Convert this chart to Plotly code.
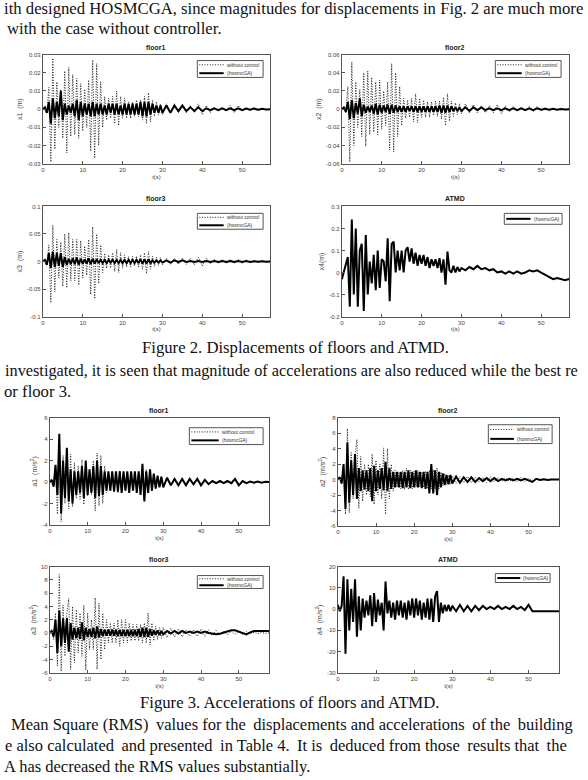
import numpy as np
import plotly.graph_objects as go

W, H = 588, 780

# ---------------- sample times (s) ----------------
T = list(np.arange(0, 30.5, 0.5)) + list(range(31, 59))

# ---------------- Figure 2: displacements (m) ----------------
X1_U = [0.000, 0.001, -0.002, 0.012, -0.029, 0.028, -0.022, 0.015, -0.010, 0.011,
        -0.016, 0.021, -0.024, 0.023, -0.015, 0.019, -0.014, 0.017, -0.016, 0.014,
        -0.012, 0.011, -0.010, 0.016, -0.023, 0.027, -0.027, 0.025, -0.020, 0.015,
        -0.010, 0.007, -0.006, 0.006, -0.005, 0.007, -0.008, 0.010, -0.009, 0.007,
        -0.005, 0.006, -0.005, 0.004, -0.005, 0.004, -0.004, 0.005, -0.004, 0.005,
        -0.006, 0.007, -0.008, 0.009, -0.007, 0.005, -0.004, 0.004, -0.003, 0.003,
        -0.003, 0.003, -0.002, 0.003, -0.002, 0.002, -0.002, 0.002, -0.002, 0.003,
        -0.003, 0.002, -0.002, 0.001, -0.001, 0.001, -0.001, 0.002, -0.002, 0.002,
        -0.001, 0.001, -0.001, 0.001, -0.001, 0.0005, -0.0005, 0.0003, 0.0]
X1_C = [0.000, 0.001, -0.002, 0.004, -0.008, 0.006, -0.005, 0.004, -0.004, 0.010,
        -0.006, 0.003, -0.003, 0.002, -0.002, 0.003, -0.004, 0.005, -0.006, 0.004,
        -0.004, 0.003, -0.003, 0.003, -0.004, 0.004, -0.004, 0.003, -0.003, 0.003,
        -0.003, 0.002, -0.003, 0.003, -0.002, 0.003, -0.003, 0.003, -0.003, 0.002,
        -0.003, 0.003, -0.003, 0.003, -0.003, 0.003, -0.003, 0.003, -0.003, 0.004,
        -0.004, 0.004, -0.004, 0.004, -0.003, 0.003, -0.002, 0.002, -0.002, 0.002,
        -0.002, 0.002, -0.002, 0.002, -0.001, 0.002, -0.001, 0.001, -0.001, 0.001,
        -0.001, 0.0005, -0.0005, 0.0005, -0.0005, 0.0005, -0.0005, 0.0005, -0.0005, 0.0005,
        -0.0005, 0.0003, -0.0003, 0.0003, -0.0003, 0.0002, -0.0002, 0.0001, 0.0]
X2_U = [0.000, 0.002, -0.004, 0.025, -0.058, 0.052, -0.040, 0.030, -0.020, 0.022,
        -0.030, 0.040, -0.041, 0.042, -0.028, 0.035, -0.025, 0.030, -0.028, 0.032,
        -0.022, 0.020, -0.018, 0.030, -0.045, 0.050, -0.047, 0.040, -0.030, 0.025,
        -0.018, 0.012, -0.010, 0.010, -0.009, 0.012, -0.014, 0.017, -0.015, 0.012,
        -0.009, 0.010, -0.009, 0.008, -0.009, 0.008, -0.007, 0.009, -0.008, 0.009,
        -0.011, 0.013, -0.018, 0.017, -0.013, 0.009, -0.008, 0.007, -0.006, 0.006,
        -0.005, 0.006, -0.004, 0.005, -0.004, 0.004, -0.004, 0.004, -0.004, 0.005,
        -0.005, 0.004, -0.003, 0.003, -0.002, 0.002, -0.002, 0.003, -0.003, 0.003,
        -0.002, 0.002, -0.002, 0.001, -0.001, 0.001, -0.001, 0.0005, 0.0]
X2_C = [0.000, 0.002, -0.003, 0.008, -0.011, 0.010, -0.010, 0.007, -0.005, 0.012,
        -0.008, 0.005, -0.004, 0.003, -0.003, 0.004, -0.005, 0.006, -0.006, 0.005,
        -0.004, 0.004, -0.003, 0.005, -0.005, 0.005, -0.004, 0.004, -0.003, 0.003,
        -0.003, 0.003, -0.003, 0.003, -0.002, 0.003, -0.003, 0.003, -0.003, 0.003,
        -0.003, 0.003, -0.003, 0.003, -0.003, 0.003, -0.003, 0.003, -0.003, 0.004,
        -0.004, 0.004, -0.004, 0.004, -0.003, 0.003, -0.002, 0.002, -0.002, 0.002,
        -0.002, 0.002, -0.002, 0.002, -0.001, 0.002, -0.001, 0.001, -0.001, 0.001,
        -0.001, 0.001, -0.001, 0.001, -0.001, 0.001, -0.001, 0.001, -0.001, 0.001,
        -0.0005, 0.0005, -0.0005, 0.0005, -0.0005, 0.0003, -0.0003, 0.0002, 0.0]
X3_U = [0.000, 0.003, -0.005, 0.030, -0.075, 0.066, -0.055, 0.040, -0.030, 0.035,
        -0.045, 0.050, -0.048, 0.052, -0.035, 0.040, -0.035, 0.040, -0.043, 0.038,
        -0.030, 0.028, -0.025, 0.040, -0.060, 0.063, -0.068, 0.050, -0.040, 0.030,
        -0.020, 0.015, -0.012, 0.012, -0.012, 0.016, -0.018, 0.022, -0.020, 0.016,
        -0.012, 0.012, -0.010, 0.009, -0.010, 0.009, -0.008, 0.010, -0.010, 0.012,
        -0.014, 0.016, -0.022, 0.018, -0.014, 0.010, -0.009, 0.008, -0.007, 0.007,
        -0.006, 0.006, -0.005, 0.006, -0.005, 0.006, -0.005, 0.006, -0.006, 0.008,
        -0.008, 0.006, -0.004, 0.004, -0.003, 0.003, -0.003, 0.004, -0.004, 0.004,
        -0.003, 0.003, -0.002, 0.002, -0.002, 0.001, -0.001, 0.001, 0.0]
X3_C = [0.000, 0.003, -0.006, 0.015, -0.012, 0.018, -0.010, 0.015, -0.008, 0.015,
        -0.010, 0.008, -0.006, 0.005, -0.005, 0.006, -0.005, 0.007, -0.006, 0.005,
        -0.004, 0.004, -0.004, 0.006, -0.005, 0.005, -0.004, 0.004, -0.003, 0.003,
        -0.003, 0.003, -0.003, 0.003, -0.002, 0.003, -0.003, 0.003, -0.003, 0.003,
        -0.003, 0.003, -0.003, 0.003, -0.003, 0.003, -0.003, 0.003, -0.003, 0.004,
        -0.004, 0.004, -0.004, 0.004, -0.003, 0.002, -0.002, 0.002, -0.002, 0.002,
        -0.002, 0.002, -0.002, 0.002, -0.001, 0.002, -0.001, 0.001, -0.001, 0.001,
        -0.001, 0.001, -0.001, 0.001, -0.001, 0.001, -0.001, 0.001, -0.001, 0.001,
        -0.001, 0.001, -0.001, 0.0005, -0.0005, 0.0005, -0.0005, 0.0002, 0.0]
X4_C = [-0.030, 0.000, 0.030, 0.070, -0.155, 0.240, -0.100, 0.200, -0.155, 0.100,
        0.130, -0.175, 0.170, -0.100, 0.050, -0.050, 0.080, -0.080, 0.100, -0.070,
        0.060, 0.050, -0.040, 0.155, -0.130, 0.130, 0.140, 0.000, 0.100, 0.010,
        0.100, 0.000, 0.100, 0.115, 0.050, 0.110, 0.040, 0.090, 0.030, 0.080,
        0.040, 0.080, 0.030, 0.070, 0.020, 0.060, 0.030, 0.060, 0.020, 0.065,
        0.000, 0.060, -0.055, 0.095, 0.010, 0.000, 0.030, 0.000, 0.025, 0.005,
        0.020, 0.010, 0.025, 0.015, 0.030, 0.015, 0.020, 0.010, 0.015, 0.000,
        0.005, -0.005, 0.005, -0.005, 0.005, -0.005, 0.000, 0.010, 0.005, 0.010,
        0.000, -0.010, -0.020, -0.030, -0.025, -0.030, -0.035, -0.030, -0.035]

# ---------------- Figure 3: accelerations (m/s^2) ----------------
A1_U = [0.0, 0.3, -0.5, 1.5, -3.0, 2.8, -3.7, 2.5, -2.0, 2.2,
        -2.5, 2.6, -2.3, 1.8, -1.5, 1.5, -1.6, 2.1, -2.1, 1.5,
        -1.3, 1.2, -1.2, 2.0, -2.7, 2.7, -2.2, 2.5, -2.0, 1.5,
        -1.0, 0.9, -0.8, 0.9, -0.8, 1.0, -1.0, 1.1, -0.9, 0.8,
        -0.8, 0.8, -0.7, 0.8, -0.7, 0.8, -0.8, 0.9, -1.0, 0.9,
        -1.0, 1.2, -1.0, 1.0, -0.8, 0.7, -0.6, 0.5, -0.5, 0.5,
        -0.4, 0.4, -0.3, 0.3, -0.3, 0.3, -0.3, 0.2, -0.2, 0.3,
        -0.3, 0.2, -0.2, 0.1, -0.1, 0.1, -0.1, 0.2, -0.2, 0.2,
        -0.2, 0.1, -0.1, 0.1, -0.05, 0.05, -0.05, 0.02, 0.0]
A1_C = [0.0, 0.2, -0.4, 1.6, -1.2, 4.5, -2.9, 2.0, -1.5, 3.2,
        -1.8, 1.2, -2.0, 1.0, -1.2, 1.0, -1.0, 1.5, -1.5, 2.0,
        -1.2, 1.2, -1.0, 1.5, -1.5, 2.0, -1.3, 1.5, -1.2, 1.0,
        -0.8, 1.0, -0.8, 1.0, -0.9, 1.0, -0.9, 1.0, -1.0, 1.0,
        -0.8, 1.0, -1.0, 1.0, -0.8, 1.0, -1.0, 1.0, -1.2, 1.7,
        -1.8, 1.0, -1.0, 1.2, -0.8, 0.8, -0.6, 0.6, -0.5, 0.5,
        -0.5, 0.4, -0.3, 0.3, -0.3, 0.3, -0.3, 0.3, -0.2, 0.3,
        -0.3, 0.2, -0.2, 0.1, -0.1, 0.1, -0.1, 0.1, -0.1, 0.3,
        -0.3, 0.1, -0.1, 0.05, -0.05, 0.05, -0.05, 0.02, 0.0]
A2_U = [0.0, 0.4, -0.6, 2.0, -4.5, 6.6, -4.3, 3.5, -2.5, 3.0,
        5.2, -3.7, 3.0, -2.8, 2.0, -2.0, 2.0, -2.2, 3.3, -3.2,
        2.5, -2.0, 2.0, -2.5, 4.1, -4.5, 4.0, -2.5, 2.0, -1.5,
        1.2, -1.0, 1.0, -1.2, 1.2, -1.3, 1.5, -1.3, 1.2, -1.2,
        1.1, -1.0, 1.2, -1.0, 1.0, -1.0, 1.1, -1.2, 1.2, -1.2,
        1.3, -1.2, 1.5, -1.2, 1.0, -0.8, 0.8, -0.6, 0.6, -0.6,
        0.5, -0.5, 0.4, -0.4, 0.4, -0.4, 0.3, -0.3, 0.3, -0.4,
        0.4, -0.3, 0.3, -0.2, 0.2, -0.2, 0.2, -0.3, 0.3, -0.3,
        0.2, -0.2, 0.1, -0.1, 0.1, -0.05, 0.05, -0.02, 0.0]
A2_C = [0.0, 0.3, -0.5, 2.0, -3.8, 4.8, -3.0, 2.5, -2.0, 3.3,
        -2.5, 1.5, -1.5, 1.2, -1.3, 1.2, -1.5, 1.5, -2.8, 1.8,
        -1.5, 1.2, -1.2, 1.5, -1.4, 2.3, -1.5, 1.5, -1.2, 1.0,
        -1.0, 1.0, -1.0, 1.0, -1.1, 1.0, -1.0, 1.2, -1.1, 1.0,
        -1.0, 1.2, -1.0, 1.0, -1.1, 1.0, -1.2, 1.0, -1.8, 2.0,
        -1.8, 1.2, -2.0, 1.0, -1.0, 0.8, -0.7, 0.6, -0.6, 0.6,
        -0.5, 0.4, -0.4, 0.3, -0.3, 0.3, -0.3, 0.2, -0.2, 0.2,
        -0.2, 0.2, -0.2, 0.1, -0.1, 0.1, -0.1, 0.1, -0.1, 0.1,
        -0.1, -0.3, 0.1, -0.05, 0.05, -0.05, 0.02, -0.02, 0.0]
A3_U = [0.0, 0.5, -1.0, 3.0, -5.0, 8.8, -5.8, 4.2, -3.5, 3.0,
        5.2, -5.5, 4.0, -4.5, 3.5, -3.0, 3.0, -3.5, 4.2, -5.6,
        3.0, -2.5, 2.0, -2.5, 5.3, -5.5, 4.5, -4.0, 3.0, -2.5,
        2.0, -1.5, 1.5, -1.5, 1.5, -1.5, 2.0, -2.0, 2.0, -1.5,
        2.0, -1.5, 1.5, -1.2, 1.3, -1.2, 1.3, -1.2, 1.3, -1.5,
        1.5, -1.5, 3.0, -1.8, 1.5, -1.2, 1.0, -1.0, 0.8, -0.8,
        0.8, -0.7, 0.7, -0.6, 0.6, -0.6, 0.5, -0.5, 0.5, -0.5,
        0.6, -0.5, 0.5, -0.4, 0.4, -0.3, 0.3, -0.3, 0.3, -0.2,
        0.2, -0.2, 0.2, -0.1, 0.1, -0.1, 0.1, -0.05, 0.0]
A3_C = [0.0, 0.3, -0.5, 2.0, -3.0, 3.4, -2.0, 2.2, -1.5, 2.3,
        -2.8, 1.5, -1.0, 0.8, -0.8, 0.8, -0.9, 1.6, -1.1, 0.8,
        -0.6, 0.6, -0.6, 0.8, -0.8, 1.0, -0.7, 0.6, -0.5, 0.5,
        -0.4, 0.5, -0.4, 0.5, -0.4, 0.5, -0.5, 0.5, -0.5, 0.5,
        -0.5, 0.5, -0.5, 0.5, -0.5, 0.5, -0.5, 0.6, -0.6, 0.8,
        -0.6, 0.8, -0.6, 0.6, -0.4, 0.4, -0.3, 0.4, -0.3, 0.3,
        -0.2, 0.3, -0.1, 0.3, -0.1, 0.3, 0.0, 0.2, 0.0, 0.2,
        0.0, 0.2, 0.0, -0.1, -0.2, -0.1, 0.1, 0.3, 0.4, 0.4,
        0.2, 0.0, -0.2, 0.1, 0.3, 0.3, 0.3, 0.3, 0.3]
A4_C = [2.0, -1.0, 1.5, 15.5, -21.0, 14.0, -10.0, 9.5, -6.0, 14.0,
        -13.0, 6.0, -10.0, 5.0, -4.0, 4.0, -3.0, 6.5, -8.0, 7.5,
        -6.0, 4.5, -3.0, 3.0, -10.0, 13.0, -2.0, 4.0, -4.0, 3.0,
        -5.0, 4.0, -3.0, 4.0, -4.0, 3.0, -5.0, 4.0, -3.0, 5.0,
        -4.0, 5.0, -3.0, 4.0, -5.0, 3.0, -4.0, 5.0, -5.0, 5.0,
        -6.0, 6.0, 8.5, -6.0, 3.0, -2.0, 2.0, -1.0, 2.0, -1.0,
        1.5, -1.0, 2.0, -1.0, 1.5, -1.0, 1.5, -0.5, 1.5, 0.0,
        1.0, 0.0, 1.5, 0.0, 1.0, 0.0, 1.5, 0.0, 1.0, -0.5,
        2.0, -1.0, -1.0, -1.0, -1.0, -1.0, -1.0, -1.0, -1.0]

for s in [X1_U, X1_C, X2_U, X2_C, X3_U, X3_C, X4_C, A1_U, A1_C, A2_U, A2_C, A3_U, A3_C, A4_C]:
    assert len(s) == len(T), len(s)

# ---------------- tick labels ----------------
XT = [0, 10, 20, 30, 40, 50]
Y_D1 = [-0.03, -0.02, -0.01, 0, 0.01, 0.02, 0.03]
Y_D1_TXT = ["-0.03", "-0.02", "-0.01", "0", "0.01", "0.02", "0.03"]
Y_D2 = [-0.06, -0.04, -0.02, 0, 0.02, 0.04, 0.06]
Y_D2_TXT = ["-0.06", "-0.04", "-0.02", "0", "0.02", "0.04", "0.06"]
Y_D3 = [-0.1, -0.05, 0, 0.05, 0.1]
Y_D3_TXT = ["-0.1", "-0.05", "0", "0.05", "0.1"]
Y_D4 = [-0.2, -0.1, 0, 0.1, 0.2, 0.3]
Y_D4_TXT = ["-0.2", "-0.1", "0", "0.1", "0.2", "0.3"]
Y_A1 = [-4, -2, 0, 2, 4, 6]
Y_A2 = [-6, -4, -2, 0, 2, 4, 6, 8]
Y_A3 = [-6, -4, -2, 0, 2, 4, 6, 8, 10]
Y_A4 = [-30, -20, -10, 0, 10, 20]
NAME_U = "without control"
NAME_C = "(hosmcGA)"

# panel specs: title, ylabel, uncontrolled, controlled, yrange, yticks, yticktext, xrange, axes box px, legend box px
panels = [
    ("floor1", "x1  (m)", X1_U, X1_C, [-0.03, 0.03], Y_D1, Y_D1_TXT, [0, 57], (41, 269, 52, 162), (196, 262, 58, 75)),
    ("floor2", "x2  (m)", X2_U, X2_C, [-0.06, 0.06], Y_D2, Y_D2_TXT, [0, 57], (341, 569, 52, 162), (495, 561, 58, 75)),
    ("floor3", "x3  (m)", X3_U, X3_C, [-0.1, 0.1], Y_D3, Y_D3_TXT, [0, 57], (41, 269, 205, 316), (196, 262, 212, 228)),
    ("ATMD", "x4(m)", None, X4_C, [-0.2, 0.3], Y_D4, Y_D4_TXT, [0, 57], (341, 569, 205, 316), (504, 562, 212, 223)),
    ("floor1", "a1  (m/s<sup>2</sup>)", A1_U, A1_C, [-4, 6], Y_A1, [str(v) for v in Y_A1], [0, 58], (48, 268, 418, 526), (188, 262, 428, 445)),
    ("floor2", "a2  (m/s<sup>2</sup>)", A2_U, A2_C, [-6, 8], Y_A2, [str(v) for v in Y_A2], [0, 58], (337, 559, 418, 527), (488, 552, 425, 444)),
    ("floor3", "a3  (m/s<sup>2</sup>)", A3_U, A3_C, [-6, 10], Y_A3, [str(v) for v in Y_A3], [0, 58], (48, 268, 568, 675), (196, 262, 577, 590)),
    ("ATMD", "a4  (m/s<sup>2</sup>)", None, A4_C, [-30, 20], Y_A4, [str(v) for v in Y_A4], [0, 58], (337, 559, 568, 675), (495, 550, 575, 584)),
]

fig = go.Figure()
SANS = "Liberation Sans"
SERIF = "Liberation Serif"
annotations = []
shapes = []
layout = {}


def px_x(v):
    return v / W


def px_y(v):
    return 1 - v / H


for i, (title, ylab, su, sc, yr, yt, ytt, xr, box, lb) in enumerate(panels):
    k = "" if i == 0 else str(i + 1)
    x0, x1, y0, y1 = box
    if su is not None:
        fig.add_trace(go.Scatter(x=T, y=su, mode="lines", name=NAME_U,
                                 line=dict(color="#222222", width=1, dash="1px,1.6px"),
                                 xaxis="x" + k, yaxis="y" + k))
    fig.add_trace(go.Scatter(x=T, y=sc, mode="lines", name=NAME_C,
                             line=dict(color="black", width=2),
                             xaxis="x" + k, yaxis="y" + k))
    axcommon = dict(showline=True, linecolor="#555555", linewidth=1, mirror=True,
                    ticks="inside", ticklen=3, tickcolor="#555555", showgrid=False,
                    zeroline=False, tickfont=dict(family=SANS, size=6, color="#444444"))
    layout["xaxis" + k] = dict(domain=[px_x(x0), px_x(x1)], range=xr, anchor="y" + k,
                               tickvals=XT, ticktext=[str(v) for v in XT],
                               title=dict(text="t(s)", font=dict(family=SANS, size=6, color="#444444"), standoff=2),
                               **axcommon)
    layout["yaxis" + k] = dict(domain=[px_y(y1), px_y(y0)], range=yr, anchor="x" + k,
                               tickvals=yt, ticktext=ytt,
                               title=dict(text=ylab, font=dict(family=SANS, size=7, color="#444444"), standoff=3),
                               **axcommon)
    annotations.append(dict(text="<b>" + title + "</b>", x=px_x((x0 + x1) / 2), y=px_y(y0 - 2),
                            xref="paper", yref="paper", xanchor="center", yanchor="bottom",
                            showarrow=False, font=dict(family=SANS, size=7, color="#222222")))
    # legend box (drawn by hand to match the small MATLAB legend)
    lx0, lx1, ly0, ly1 = lb
    shapes.append(dict(type="rect", xref="paper", yref="paper", x0=px_x(lx0), x1=px_x(lx1),
                       y0=px_y(ly1), y1=px_y(ly0), line=dict(color="#555555", width=1),
                       fillcolor="white", layer="above"))
    entries = ([(NAME_U, "dot")] if su is not None else []) + [(NAME_C, "solid")]
    n = len(entries)
    sw = 0.37 * (lx1 - lx0) if su is not None else 0.42 * (lx1 - lx0)
    for j, (nm, st) in enumerate(entries):
        yc = ly0 + (ly1 - ly0) * (j + 0.5) / n
        shapes.append(dict(type="line", xref="paper", yref="paper", x0=px_x(lx0 + 2), x1=px_x(lx0 + 2 + sw),
                           y0=px_y(yc), y1=px_y(yc), layer="above",
                           line=dict(color="#222222" if st == "dot" else "black",
                                     width=1 if st == "dot" else 2,
                                     dash="1px,1.6px" if st == "dot" else "solid")))
        annotations.append(dict(text=nm, x=px_x(lx0 + 3 + sw), y=px_y(yc), xref="paper", yref="paper",
                                xanchor="left", yanchor="middle", showarrow=False,
                                font=dict(family=SANS, size=5, color="#333333")))


def spread(text, n_thin):
    words = text.split(" ")
    g = len(words) - 1
    out = words[0]
    for i in range(g):
        add = (i + 1) * n_thin // g > i * n_thin // g
        out += (" \u2009" if add else " ") + words[i + 1]
    return out


texts = [
    ("ith designed HOSMCGA, since magnitudes for displacements in Fig. 2 are much more", 0, 6, 0, "left", 16.7),
    ("with the case without controller.", 3, 26, 0, "left", 16.7),
    ("Figure 2. Displacements of floors and ATMD.", 294, 347, 0, "center", 16.7),
    ("investigated, it is seen that magnitude of accelerations are also reduced while the best re", 1, 370, 0, "left", 16.3),
    ("or floor 3.", 0, 392, 0, "left", 16.7),
    ("Figure 3. Accelerations of floors and ATMD.", 288, 705, 0, "center", 16.7),
    ("Mean Square (RMS) values for the displacements and accelerations of the building", 7, 727, 4, "left", 16.5),
    ("e also calculated and presented in Table 4. It is deduced from those results that the", 1, 748, 6, "left", 16.5),
    ("A has decreased the RMS values substantially.", 0, 769, 0, "left", 16.5),
]
for txt, px, py, nthin, anc, fs in texts:
    annotations.append(dict(text=spread(txt, nthin) if nthin else txt, x=px_x(px), y=px_y(py),
                            xref="paper", yref="paper", xanchor=anc, yanchor="middle", showarrow=False,
                            font=dict(family=SERIF, size=fs, color="#111111")))

fig.update_layout(width=W, height=H, margin=dict(l=0, r=0, t=0, b=0),
                  paper_bgcolor="white", plot_bgcolor="white", showlegend=False,
                  annotations=annotations, shapes=shapes, **layout)
fig.write_html("out.html")
